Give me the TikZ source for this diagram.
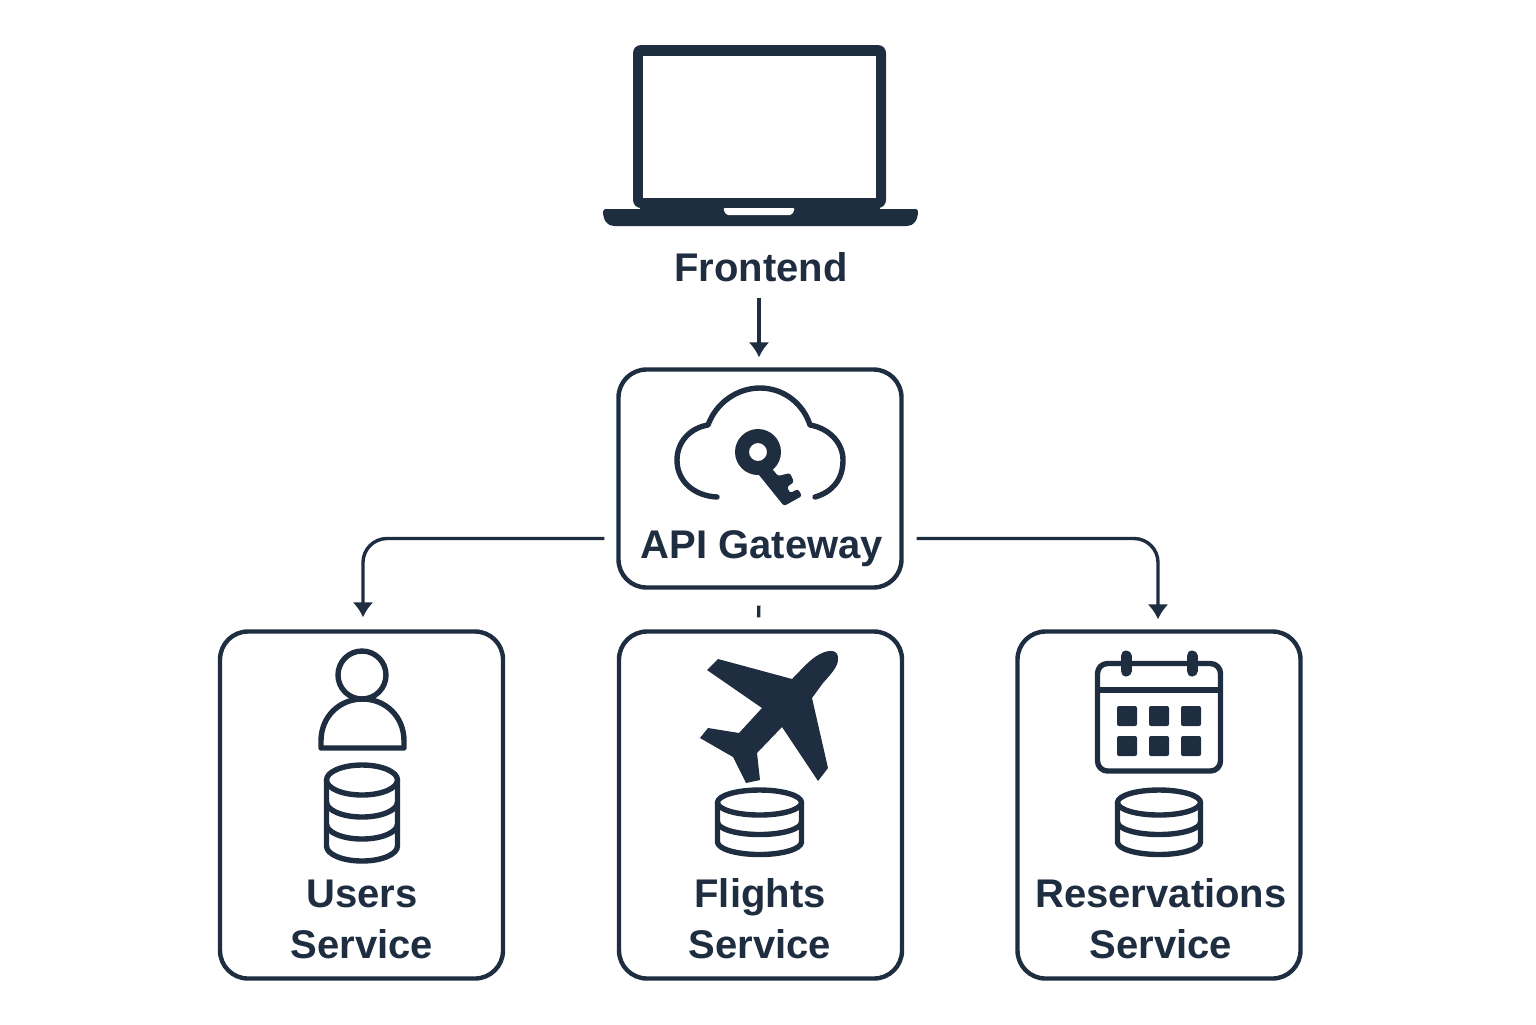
\documentclass[tikz,border=0pt]{standalone}
\usepackage{fontspec}
\setmainfont{Liberation Sans}
\usepackage{tikz}
\usetikzlibrary{positioning,arrows.meta}

\definecolor{inkblue}{HTML}{1F2D40}

\newcommand{\dbicon}[6]{%
    \draw[iconline] (#1,#2) ellipse [x radius=#3*.5pt, y radius=#4*.5pt];
    \draw[iconline] ({#1-#3},#2) -- ({#1-#3},#5) arc [start angle=180, end angle=360, x radius=#3*.5pt, y radius=#4*.5pt] -- ({#1+#3},#2);
    \foreach \ybelt in {#6}
    \draw[iconline] ({#1-#3},\ybelt) arc [start angle=180, end angle=360, x radius=#3*.5pt, y radius=#4*.5pt];
}

\begin{document}
\begin{tikzpicture}[x=.5pt, y=-.5pt,
    svcbox/.style={draw=inkblue, line width=2.2pt, rounded corners=14pt, inner sep=0pt,
        minimum width=141.5pt},
    boxlabel/.style={text=inkblue, inner sep=0pt, align=center,
        font=\fontsize{20}{25.5}\selectfont\bfseries},
    flowline/.style={draw=inkblue, line width=1.7pt, rounded corners=12pt},
    flowarrow/.style={flowline, -{Latex[length=7.5pt,width=10.5pt]}},
    iconline/.style={draw=inkblue, line width=2.7pt, line join=round},
    iconfill/.style={fill=inkblue, draw=none}]

\useasboundingbox (0,0) rectangle (1536,1024);

\node[svcbox, minimum height=109pt] (gateway) at (760,478.5) {};
\node[svcbox, minimum height=173.5pt] (users) at (361.5,805) {};
\node[svcbox, minimum height=173.5pt] (flights) at (760.5,805) {};
\node[svcbox, minimum height=173.5pt] (reservations) at (1159,805) {};

\node[boxlabel, anchor=base] (frontend) at (761,281) {Frontend};
\node[boxlabel, anchor=base] (gatewaytext) at (762,558) {API Gateway};
\node[boxlabel] (userstext) at (362,919) {Users\\Service};
\node[boxlabel] (flightstext) at (760,919) {Flights\\Service};
\node[boxlabel] (reservationstext) at (1161,919) {Reservations\\Service};

\draw[flowarrow, shorten <=8pt, shorten >=5pt] ([xshift=-.5pt]frontend.south -| gateway.north) -- ([xshift=-.5pt]gateway.north);
\draw[flowarrow, shorten >=6pt] ([xshift=-6pt,yshift=-30pt]gateway.west) -| ([xshift=.75pt]users.north);
\draw[flowarrow, shorten >=5pt] ([xshift=6.5pt,yshift=-30pt]gateway.east) -| ([xshift=-.5pt]reservations.north);
\draw[flowline, shorten <=8pt, shorten >=6pt] ([xshift=-.5pt]gateway.south) -- ([xshift=-1pt]flights.north);

% laptop
\path[iconfill, rounded corners=4pt] (633,45) rectangle (886,208);
\fill[white] (643,56) rectangle (876,198);
\path[iconfill] (640,198) rectangle (880,226);
\path[iconfill] (605,209) -- (916,209) -- (918,211) .. controls (918,220) and (914,226) .. (907,226)
    -- (614,226) .. controls (607,226) and (603,220) .. (603,211) -- cycle;
\fill[white, rounded corners=1pt] (723,208) -- (795,208) -- (792,215) -- (726,215) -- cycle;

% cloud and key
\draw[iconline, line cap=round] (717,497) .. controls (695,496) and (677,482) .. (677,460)
    .. controls (677,442) and (690,428) .. (708,425)
    .. controls (716,403) and (737,388) .. (760,388)
    .. controls (783,388) and (803,403) .. (810,425)
    .. controls (828,428) and (843,442) .. (843,460)
    .. controls (843,480) and (832,492) .. (815,497);
\path[iconfill, even odd rule] (758,452) circle [radius=11.5pt] (758,452) circle [radius=4.5pt];
\path[iconfill, rounded corners=1.2pt] (769,465) -- (778,476) -- (790,473) -- (794,482) -- (787,487)
    -- (790,493) -- (798,489) -- (802,496) -- (784,506) -- (755,470) -- cycle;

% person
\draw[iconline] (362,675) circle [radius=12pt];
\draw[iconline] (321,748) -- (321,741) .. controls (321,716) and (340,699) .. (362.5,699)
    .. controls (385,699) and (404,716) .. (404,741) -- (404,748) -- cycle;
\dbicon{362}{780}{35.5}{15}{846}{802,824}

% plane
\path[iconfill] (718,659) -- (792,679) .. controls (801,670) and (810,659) .. (820,654)
    .. controls (830,649) and (838,650) .. (838,658) .. controls (839,666) and (830,675) .. (823,683)
    -- (812,698) -- (828,768) -- (818,781) -- (782,727) -- (757,753) -- (760,780) -- (746,783)
    -- (733,757) -- (700,738) -- (708,728) -- (739,733) -- (762,708) -- (707,670) -- cycle;
\dbicon{759.5}{802.5}{42}{12.5}{842}{822}

% calendar
\draw[iconline, rounded corners=5pt] (1097.5,663.5) rectangle (1220.5,771);
\draw[iconline] (1097.5,690) -- (1220.5,690);
\foreach \xring in {1126,1192}
    \draw[inkblue, line width=5.5pt, line cap=round] (\xring,656) -- (\xring,671);
\foreach \xcell in {1127,1159,1191}
    \foreach \ycell in {716,746}
    \path[iconfill, rounded corners=1pt] (\xcell-10,\ycell-10) rectangle (\xcell+10,\ycell+10);
\dbicon{1159}{802.5}{41.5}{12.5}{842}{822}

\end{tikzpicture}
\end{document}
